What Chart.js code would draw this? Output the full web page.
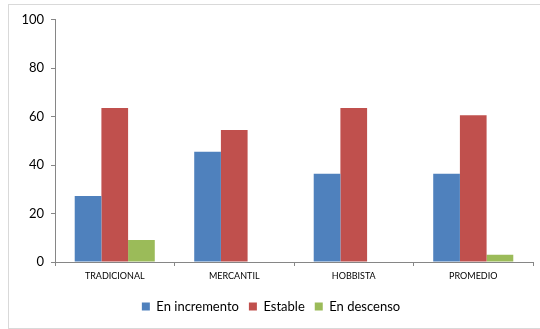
<!DOCTYPE html>
<html>
<head>
<meta charset="utf-8">
<script src="https://cdn.jsdelivr.net/npm/chart.js@4"></script>
<style>
  html, body { margin: 0; padding: 0; background: #fff; }
  #box {
    position: absolute; left: 8px; top: 4px;
    width: 531px; height: 323px;
    border: 1px solid #d9d9d9;
  }
</style>
</head>
<body>
<div id="box"><canvas id="chart"></canvas></div>
<script>
const categories = ["TRADICIONAL", "MERCANTIL", "HOBBISTA", "PROMEDIO"];
const enIncremento = [27.3, 45.5, 36.4, 36.4];
const estable = [63.6, 54.5, 63.6, 60.6];
const enDescenso = [9.1, 0, 0, 3.0];
const yTicks = [0, 20, 40, 60, 80, 100];

Chart.defaults.font.family = "Lato, 'Open Sans', sans-serif";
Chart.defaults.color = "#000";

const ctx = document.getElementById("chart").getContext("2d");
new Chart(ctx, {
  type: "bar",
  data: {
    labels: categories,
    datasets: [
      { label: "En incremento", data: enIncremento, backgroundColor: "#4f81bd" },
      { label: "Estable", data: estable, backgroundColor: "#c0504d" },
      { label: "En descenso", data: enDescenso, backgroundColor: "#9bbb59" },
    ],
  },
  options: {
    responsive: true,
    maintainAspectRatio: false,
    animation: false,
    layout: { padding: { top: 12, right: 7, bottom: 5, left: 0 } },
    datasets: { bar: { barPercentage: 1, categoryPercentage: 0.67 } },
    plugins: {
      tooltip: { enabled: false },
      legend: {
        position: "bottom",
        labels: { boxWidth: 8, boxHeight: 8, padding: 10, font: { size: 13 } },
      },
    },
    scales: {
      x: {
        grid: { offset: true, drawOnChartArea: false, tickLength: 4, color: "#868686" },
        border: { color: "#868686" },
        ticks: { font: { size: 9 }, padding: 5, maxRotation: 0 },
        afterFit: (s) => { s.height = 28; },
      },
      y: {
        min: 0,
        max: 100,
        afterBuildTicks: (s) => { s.ticks = yTicks.map((v) => ({ value: v })); },
        grid: { drawOnChartArea: false, tickLength: 4, color: "#868686" },
        border: { color: "#868686" },
        ticks: { font: { size: 13 }, padding: 7 },
        afterFit: (s) => { s.width = 46; },
      },
    },
  },
});
</script>
</body>
</html>
